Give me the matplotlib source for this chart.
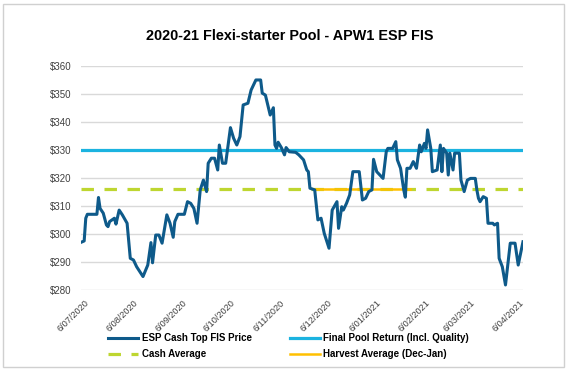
"""
2020-21 Flexi-starter Pool - APW1 ESP FIS
Prezzo cash giornaliero contro ritorno finale del pool e medie.
"""

import matplotlib
matplotlib.use("Agg")
import matplotlib.pyplot as plt
import matplotlib.transforms as mtransforms
import pandas as pd
from matplotlib.patches import Rectangle

# ── Dati ─────────────────────────────────────────────────────────────────────
DATES = [
    "2020-07-06", "2020-07-08", "2020-07-09", "2020-07-10", "2020-07-16", "2020-07-17",
    "2020-07-18", "2020-07-20", "2020-07-22", "2020-07-23", "2020-07-24", "2020-07-27",
    "2020-07-28", "2020-07-30", "2020-08-01", "2020-08-04", "2020-08-06", "2020-08-08",
    "2020-08-10", "2020-08-14", "2020-08-17", "2020-08-19", "2020-08-20", "2020-08-22",
    "2020-08-24", "2020-08-26", "2020-08-29", "2020-08-31", "2020-09-02", "2020-09-03",
    "2020-09-05", "2020-09-09", "2020-09-11", "2020-09-13", "2020-09-15", "2020-09-17",
    "2020-09-19", "2020-09-21", "2020-09-23", "2020-09-24", "2020-09-26", "2020-09-28",
    "2020-09-30", "2020-10-01", "2020-10-03", "2020-10-05", "2020-10-08", "2020-10-10",
    "2020-10-12", "2020-10-14", "2020-10-16", "2020-10-19", "2020-10-21", "2020-10-23",
    "2020-10-24", "2020-10-27", "2020-10-28", "2020-10-30", "2020-11-01", "2020-11-02",
    "2020-11-04", "2020-11-05", "2020-11-06", "2020-11-07", "2020-11-09", "2020-11-11",
    "2020-11-12", "2020-11-14", "2020-11-18", "2020-11-20", "2020-11-23", "2020-11-25",
    "2020-11-26", "2020-11-27", "2020-11-30", "2020-12-02", "2020-12-04", "2020-12-06",
    "2020-12-09", "2020-12-11", "2020-12-14", "2020-12-15", "2020-12-17", "2020-12-18",
    "2020-12-20", "2020-12-22", "2020-12-24", "2020-12-28", "2020-12-30", "2021-01-01",
    "2021-01-03", "2021-01-05", "2021-01-06", "2021-01-08", "2021-01-10", "2021-01-12",
    "2021-01-14", "2021-01-15", "2021-01-18", "2021-01-20", "2021-01-21", "2021-01-23",
    "2021-01-25", "2021-01-26", "2021-01-27", "2021-01-29", "2021-01-31", "2021-02-02",
    "2021-02-04", "2021-02-05", "2021-02-07", "2021-02-08", "2021-02-09", "2021-02-11",
    "2021-02-12", "2021-02-15", "2021-02-17", "2021-02-18", "2021-02-19", "2021-02-21",
    "2021-02-22", "2021-02-23", "2021-02-25", "2021-02-26", "2021-03-01", "2021-03-02",
    "2021-03-04", "2021-03-06", "2021-03-08", "2021-03-11", "2021-03-12", "2021-03-13",
    "2021-03-14", "2021-03-16", "2021-03-18", "2021-03-19", "2021-03-22", "2021-03-23",
    "2021-03-25", "2021-03-26", "2021-03-28", "2021-03-30", "2021-04-02", "2021-04-05",
    "2021-04-07", "2021-04-10",
]
CASH_PRICE = [
    297.0, 297.5, 305.6, 307.0, 307.0, 313.0,
    309.1, 307.4, 303.2, 302.6, 304.4, 305.6,
    303.5, 308.5, 306.8, 303.8, 291.3, 290.7,
    288.3, 284.8, 288.9, 296.9, 289.7, 299.6,
    299.6, 296.7, 306.8, 303.8, 298.8, 304.4,
    307.0, 307.0, 311.5, 310.9, 309.1, 303.8,
    315.7, 319.2, 315.1, 325.2, 327.0, 327.0,
    322.8, 331.7, 325.2, 325.2, 337.9, 334.1,
    331.7, 334.7, 346.0, 346.6, 351.3, 353.7,
    354.9, 354.9, 350.2, 349.5, 344.8, 342.4,
    345.0, 331.7, 330.5, 332.7, 330.8, 328.2,
    330.8, 329.3, 329.1, 328.2, 326.4, 322.8,
    322.2, 316.3, 315.7, 305.0, 305.6, 300.2,
    294.9, 308.5, 311.5, 302.0, 309.7, 308.5,
    310.9, 313.9, 322.2, 322.2, 312.1, 312.7,
    315.1, 315.7, 326.6, 322.2, 321.0, 319.8,
    329.3, 330.5, 330.5, 332.9, 326.4, 323.4,
    315.7, 313.1, 323.4, 323.4, 325.8, 323.4,
    331.7, 329.3, 332.3, 330.5, 337.1, 330.5,
    322.2, 322.8, 331.7, 322.2, 330.5, 328.8,
    321.0, 328.8, 322.8, 328.8, 328.8, 319.2,
    315.1, 319.2, 319.8, 319.8, 315.7, 312.7,
    311.5, 313.3, 312.7, 303.8, 303.8, 303.2,
    303.8, 291.3, 288.3, 281.8, 296.7, 296.7,
    288.9, 297.2,
]

FINAL_POOL_RETURN = 329.8
CASH_AVERAGE      = 315.9
HARVEST_AVERAGE   = 316.0
HARVEST_PERIOD    = ["2020-11-30", "2021-01-29"]

TICK_DATES  = ["2020-07-06", "2020-08-06", "2020-09-06", "2020-10-06", "2020-11-06",
               "2020-12-06", "2021-01-06", "2021-02-06", "2021-03-06", "2021-04-06"]
TICK_LABELS = ["6/07/2020", "6/08/2020", "6/09/2020", "6/10/2020", "6/11/2020",
               "6/12/2020", "6/01/2021", "6/02/2021", "6/03/2021", "6/04/2021"]
Y_TICKS     = [280, 290, 300, 310, 320, 330, 340, 350, 360]

TITLE = "2020-21 Flexi-starter Pool - APW1 ESP FIS"

# ── Stile ────────────────────────────────────────────────────────────────────
C_CASH    = "#0E5A8A"
C_POOL    = "#1BB3E0"
C_CASHAVG = "#BED630"
C_HARVEST = "#FFC000"
C_GRID    = "#D9D9D9"
C_TEXT    = "#404040"

plt.rcParams["font.family"] = ["Liberation Sans", "DejaVu Sans"]


def main():
    dates = pd.to_datetime(DATES)
    harvest = pd.to_datetime(HARVEST_PERIOD)

    fig = plt.figure(figsize=(5.72, 3.71), dpi=100)
    ax = fig.add_axes([0.1416, 0.2183, 0.7727, 0.6047])

    # linee orizzontali di riferimento
    ax.axhline(FINAL_POOL_RETURN, color=C_POOL, linewidth=2.3, zorder=3,
               label="Final Pool Return (Incl. Quality)")
    ax.axhline(CASH_AVERAGE, color=C_CASHAVG, linewidth=2.3, zorder=3,
               dashes=(3.9, 3.3), dash_capstyle="butt", label="Cash Average")
    ax.plot(harvest, [HARVEST_AVERAGE, HARVEST_AVERAGE], color=C_HARVEST,
            linewidth=1.8, zorder=4, label="Harvest Average (Dec-Jan)")

    ax.plot(dates, CASH_PRICE, color=C_CASH, linewidth=2.2, zorder=5,
            solid_joinstyle="round", label="ESP Cash Top FIS Price")

    ax.set_ylim(Y_TICKS[0], Y_TICKS[-1])
    ax.set_xlim(dates[0], dates[-1])
    ax.set_yticks(Y_TICKS)
    ax.set_yticklabels([f"${v}" for v in Y_TICKS], fontsize=7, color=C_TEXT)
    ax.set_xticks(pd.to_datetime(TICK_DATES))
    ax.set_xticklabels(TICK_LABELS, fontsize=6.6, color=C_TEXT, rotation=45,
                       ha="right", rotation_mode="anchor")
    ax.tick_params(axis="x", length=0, pad=6)
    ax.tick_params(axis="y", length=0, pad=7)
    # sposta un po' a destra le etichette ruotate, come in Excel
    shift = mtransforms.ScaledTranslation(3 / 100, 0, fig.dpi_scale_trans)
    for lbl in ax.get_xticklabels():
        lbl.set_transform(lbl.get_transform() + shift)
    ax.grid(True, axis="y", color=C_GRID, linewidth=1.0)
    ax.set_axisbelow(True)
    for s in ax.spines.values():
        s.set_visible(False)

    fig.text(0.507, 0.904, TITLE, ha="center", va="center",
             fontsize=10.4, fontweight="bold", color="#000000")

    h, l = ax.get_legend_handles_labels()
    order = [3, 1, 0, 2]
    fig.legend([h[i] for i in order], [l[i] for i in order], ncol=2,
               loc="center", bbox_to_anchor=(0.505, 0.067), frameon=False,
               prop={"size": 7, "weight": "bold"}, handlelength=3.0,
               handletextpad=0.4, columnspacing=4.0, labelspacing=0.65,
               labelcolor="#000000")

    # bordo esterno del grafico
    fig.patches.append(Rectangle((3 / 572, 4 / 371), 561 / 572, 363 / 371,
                                 transform=fig.transFigure, fill=False,
                                 edgecolor="#D0D0D0", linewidth=1.0))

    fig.savefig("out.png", dpi=100)


if __name__ == "__main__":
    main()
